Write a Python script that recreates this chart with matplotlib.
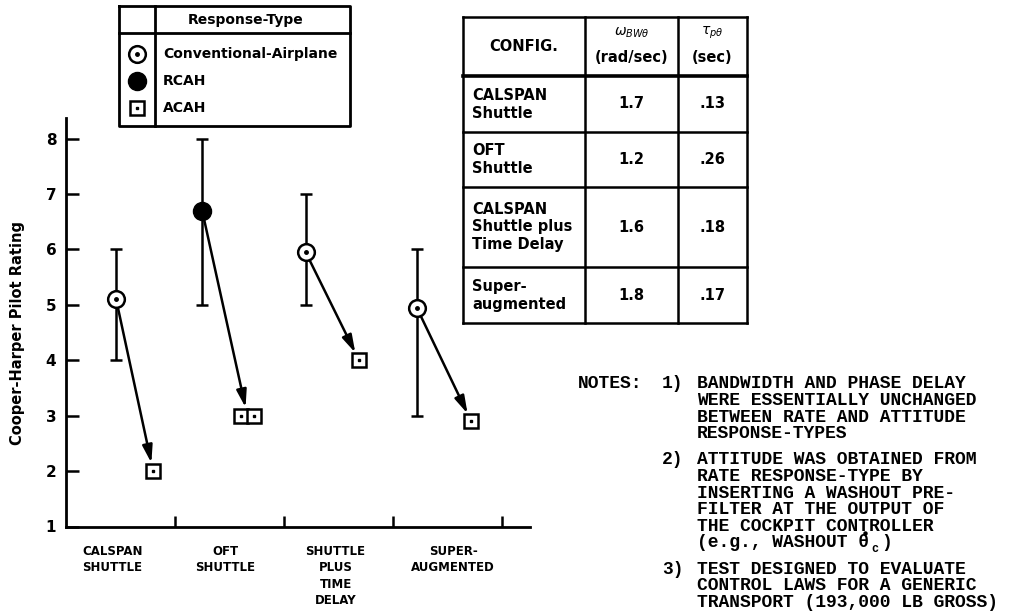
import numpy as np
import matplotlib
matplotlib.use('Agg')
import matplotlib.pyplot as plt

# configurations along the x axis
configs = ['CALSPAN\nSHUTTLE', 'OFT\nSHUTTLE', 'SHUTTLE\nPLUS\nTIME\nDELAY', 'SUPER-\nAUGMENTED']
config_label_x = [0.15, 1.46, 2.20, 3.17]
config_label_ha = ['left', 'center', 'left', 'left']

# rate response-type (conventional airplane / RCAH) ratings with spread
rate_x = [0.46, 1.25, 2.20, 3.22]
rate_hqr = [5.1, 6.7, 5.95, 4.95]
rate_lo = [4, 5, 5, 3]
rate_hi = [6, 8, 7, 6]
rate_kind = ['conv', 'rcah', 'conv', 'conv']

# attitude response-type (ACAH) ratings
acah_x = [[0.80], [1.605, 1.725], [2.69], [3.72]]
acah_hqr = [[2.0], [3.0, 3.0], [4.0], [2.9]]

# table of bandwidth / phase delay
table_config = ['CALSPAN\nShuttle', 'OFT\nShuttle', 'CALSPAN\nShuttle plus\nTime Delay', 'Super-\naugmented']
bandwidth = [1.7, 1.2, 1.6, 1.8]
phase_delay = [0.13, 0.26, 0.18, 0.17]

notes = [
    ['BANDWIDTH AND PHASE DELAY', 'WERE ESSENTIALLY UNCHANGED', 'BETWEEN RATE AND ATTITUDE', 'RESPONSE-TYPES'],
    ['ATTITUDE WAS OBTAINED FROM', 'RATE RESPONSE-TYPE BY', 'INSERTING A WASHOUT PRE-',
     'FILTER AT THE OUTPUT OF', 'THE COCKPIT CONTROLLER', '(e.g., WASHOUT θ )'],
    ['TEST DESIGNED TO EVALUATE', 'CONTROL LAWS FOR A GENERIC', 'TRANSPORT (193,000 LB GROSS)'],
]

W, H = 1010, 616
fig = plt.figure(figsize=(W / 100, H / 100), dpi=100)

# overlay in pixel units for the legend box, table and notes
ov = fig.add_axes([0, 0, 1, 1])
ov.set_xlim(0, W)
ov.set_ylim(H, 0)
ov.axis('off')

ax = fig.add_axes([66 / W, 1 - 526.5 / H, 464 / W, 408.5 / H])
ax.patch.set_alpha(0)
ax.set_xlim(0, 4.26)
ax.set_ylim(1, 8.37)
for s in ['top', 'right']:
    ax.spines[s].set_visible(False)
for s in ['left', 'bottom']:
    ax.spines[s].set_linewidth(2)

ax.set_xticks([1, 2, 3, 4])
ax.set_xticklabels([])
ax.tick_params(axis='x', direction='in', length=8, width=1.8)
ax.set_yticks(range(1, 9))
ax.set_yticklabels([str(v) for v in range(1, 9)], fontsize=11, fontweight='bold')
ax.tick_params(axis='y', direction='in', length=9, width=1.8, pad=7)

for x, lab, ha in zip(config_label_x, configs, config_label_ha):
    ax.text(x, -0.045, lab, transform=ax.get_xaxis_transform(), ha=ha, va='top',
            multialignment='center', fontsize=8.5, fontweight='bold', linespacing=1.35)

fig.text(18 / W, 1 - 333 / H, 'Cooper-Harper Pilot Rating', rotation=90,
         ha='center', va='center', fontsize=10.5, fontweight='bold')

# spread of ratings
y = np.array(rate_hqr)
ax.errorbar(rate_x, rate_hqr, yerr=[y - np.array(rate_lo), np.array(rate_hi) - y],
            fmt='none', ecolor='black', elinewidth=1.8, capsize=4.5, capthick=1.8, zorder=2)

# arrows from rate to attitude response-type
for rx, ry, ax_list, ay_list in zip(rate_x, rate_hqr, acah_x, acah_hqr):
    tx, ty = np.mean(ax_list), np.mean(ay_list)
    ax.annotate('', xy=(tx, ty), xytext=(rx, ry),
                arrowprops=dict(arrowstyle='-|>,head_length=0.7,head_width=0.2',
                                mutation_scale=15, lw=1.8, color='black',
                                shrinkA=6, shrinkB=6), zorder=3)


def conv_marker(a, x, y):
    a.plot(x, y, 'o', ms=12, mfc='white', mec='black', mew=1.8, zorder=5, clip_on=False)
    a.plot(x, y, 'o', ms=2.5, color='black', zorder=6, clip_on=False)


def rcah_marker(a, x, y):
    a.plot(x, y, 'o', ms=13, color='black', zorder=5, clip_on=False)


def acah_marker(a, x, y):
    a.plot(x, y, 's', ms=9.5, mfc='white', mec='black', mew=1.8, zorder=5, clip_on=False)
    a.plot(x, y, 's', ms=2, color='black', zorder=6, clip_on=False)


for rx, ry, kind in zip(rate_x, rate_hqr, rate_kind):
    if kind == 'conv':
        conv_marker(ax, rx, ry)
    else:
        rcah_marker(ax, rx, ry)
for xs, ys in zip(acah_x, acah_hqr):
    acah_marker(ax, xs, ys)

# legend box
lw_box = 2
ov.plot([119, 350, 350, 119, 119], [6, 6, 126, 126, 6], color='black', lw=lw_box)
ov.plot([155, 155], [6, 126], color='black', lw=lw_box)
ov.plot([119, 350], [33, 33], color='black', lw=lw_box)
ov.text(246, 20, 'Response-Type', ha='center', va='center', fontsize=10, fontweight='bold')
leg_rows = [('Conventional-Airplane', conv_marker), ('RCAH', rcah_marker), ('ACAH', acah_marker)]
for (name, fn), ly in zip(leg_rows, [54, 81, 108]):
    fn(ov, 137, ly)
    ov.text(163, ly, name, ha='left', va='center', fontsize=10, fontweight='bold')

# table
cols = [463, 585, 678, 747]
rows = [17, 76, 132, 187, 267, 323]
for cx in cols:
    ov.plot([cx, cx], [rows[0], rows[-1]], color='black', lw=1.8)
for i, ry in enumerate(rows):
    ov.plot([cols[0], cols[-1]], [ry, ry], color='black', lw=2.6 if i == 1 else 1.8)

hy = (rows[0] + rows[1]) / 2
ov.text((cols[0] + cols[1]) / 2, hy, 'CONFIG.', ha='center', va='center', fontsize=10.5, fontweight='bold')
ov.text((cols[1] + cols[2]) / 2, hy - 14, r'$\omega_{BW\theta}$', ha='center', va='center', fontsize=10)
ov.text((cols[1] + cols[2]) / 2, hy + 11, '(rad/sec)', ha='center', va='center', fontsize=10.5, fontweight='bold')
ov.text((cols[2] + cols[3]) / 2, hy - 14, r'$\tau_{p\theta}$', ha='center', va='center', fontsize=10)
ov.text((cols[2] + cols[3]) / 2, hy + 11, '(sec)', ha='center', va='center', fontsize=10.5, fontweight='bold')

for i, (cfg, bw, pd) in enumerate(zip(table_config, bandwidth, phase_delay)):
    cy = (rows[i + 1] + rows[i + 2]) / 2
    ov.text(cols[0] + 9, cy, cfg, ha='left', va='center', fontsize=10.5, fontweight='bold', linespacing=1.25)
    ov.text((cols[1] + cols[2]) / 2, cy, f'{bw:.1f}', ha='center', va='center', fontsize=10.5, fontweight='bold')
    ov.text((cols[2] + cols[3]) / 2, cy, f'{pd:.2f}'.lstrip('0'), ha='center', va='center',
            fontsize=10.5, fontweight='bold')

# notes, typed in a monospace face
fs = 13
adv = 0.6 * fs * 100 / 72
mono = dict(family='Liberation Mono', fontweight='bold', fontsize=fs, va='center')
ov.text(578, 384, 'NOTES:', ha='left', **mono)
ny = 384
for k, block in enumerate(notes):
    ov.text(662, ny, f'{k + 1})', ha='left', **mono)
    for line in block:
        if 'θ' in line:
            j = line.index('θ')
            ov.text(697, ny, line[:j + 1], ha='left', **mono)
            ov.text(697 + (j + 2) * adv, ny, line[j + 2:], ha='left', **mono)
            tx = 697 + j * adv + adv / 2
            # rate dot over theta and subscript c
            ov.plot(tx, ny - 9.5, 'o', ms=2.2, color='black')
            ov.text(tx + adv * 0.95, ny + 6, 'c', ha='center', family='Liberation Mono',
                    fontweight='bold', fontsize=8.5, va='center')
        else:
            ov.text(697, ny, line, ha='left', **mono)
        ny += 16.6
    ny += 9.5

fig.savefig('out.png', dpi=100)
